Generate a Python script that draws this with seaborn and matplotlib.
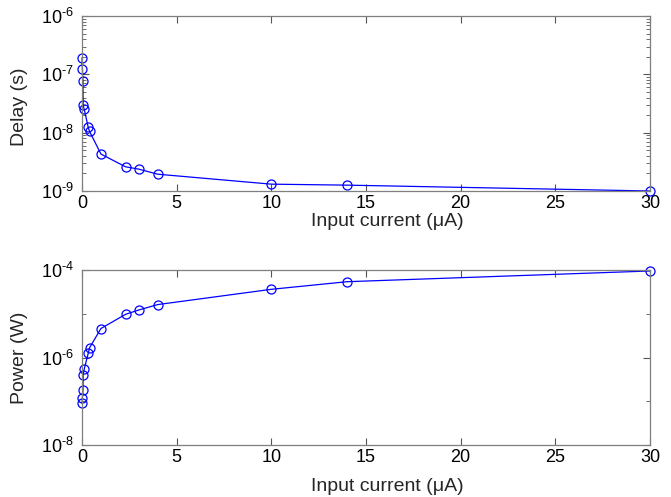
import numpy as np
import pandas as pd
import matplotlib
matplotlib.use("Agg")
import matplotlib.pyplot as plt
import matplotlib.ticker as mticker
import seaborn as sns

# Data
current_uA = [0.005, 0.02, 0.05, 0.06, 0.12, 0.33, 0.4, 1.0, 2.3, 3.0, 4.0, 10.0, 14.0, 30.0]
delay_s = [1.94e-7, 1.25e-7, 7.6e-8, 3.0e-8, 2.5e-8, 1.23e-8, 1.05e-8, 4.3e-9, 2.6e-9,
           2.37e-9, 1.94e-9, 1.31e-9, 1.26e-9, 1.0e-9]
power_W = [9.0e-8, 1.17e-7, 1.8e-7, 4.0e-7, 5.5e-7, 1.25e-6, 1.67e-6, 4.6e-6, 9.7e-6,
           1.22e-5, 1.62e-5, 3.62e-5, 5.4e-5, 9.5e-5]
x_ticks = [0, 5, 10, 15, 20, 25, 30]
xlabel = "Input current (\u03bcA)"

df = pd.DataFrame({"current": current_uA, "delay": delay_s, "power": power_W})

sns.set_style("ticks")
plt.rcParams["font.family"] = ["Liberation Sans", "DejaVu Sans"]
plt.rcParams["mathtext.fontset"] = "custom"
plt.rcParams["mathtext.rm"] = "Liberation Sans"
plt.rcParams["mathtext.it"] = "Liberation Sans"
plt.rcParams["mathtext.default"] = "regular"

fig = plt.figure(figsize=(6.71, 4.97), dpi=100)
W, H = 671, 497
ax1 = fig.add_axes([82 / W, 1 - 191 / H, (650 - 82) / W, (191 - 16) / H])
ax2 = fig.add_axes([82 / W, 1 - 445 / H, (650 - 82) / W, (445 - 270) / H])

line_kw = dict(color="#0000ff", marker="o", markersize=6.5, markerfacecolor="none",
               markeredgecolor="#0000ff", markeredgewidth=0.9, linewidth=0.9,
               clip_on=False)

sns.lineplot(data=df, x="current", y="delay", ax=ax1, **line_kw)
sns.lineplot(data=df, x="current", y="power", ax=ax2, **line_kw)


def sci_fmt(v, pos):
    e = int(round(np.log10(v)))
    return r"$10^{\text{-}%d}$" % (-e)


for ax in (ax1, ax2):
    ax.set_yscale("log")
    ax.set_xlim(0, 30)
    ax.set_xticks(x_ticks)
    ax.set_xlabel(xlabel, fontsize=14)
    for s in ax.spines.values():
        s.set_color("#7f7f7f")
        s.set_linewidth(0.9)
        s.set_visible(True)
    ax.tick_params(which="both", direction="in", top=True, right=True,
                   colors="#555555", labelcolor="black", labelsize=13)
    ax.tick_params(which="major", length=5, width=0.8)
    ax.tick_params(axis="x", which="major", pad=3)
    ax.tick_params(axis="y", which="major", pad=6)
    ax.tick_params(which="minor", length=3, width=0.6)
    ax.yaxis.set_major_formatter(mticker.FuncFormatter(sci_fmt))
    ax.yaxis.set_minor_formatter(mticker.NullFormatter())
    ax.set_facecolor("white")

ax1.set_ylim(1e-9, 1e-6)
ax1.yaxis.set_major_locator(mticker.FixedLocator([1e-9, 1e-8, 1e-7, 1e-6]))
ax1.yaxis.set_minor_locator(mticker.LogLocator(base=10, subs=np.arange(2, 10), numticks=20))
ax1.set_ylabel("Delay (s)", fontsize=14)
ax1.xaxis.set_label_coords(0.537, -0.125)
ax1.yaxis.set_label_coords(-0.095, 0.48)

ax2.set_ylim(1e-8, 1e-4)
ax2.yaxis.set_major_locator(mticker.FixedLocator([1e-8, 1e-6, 1e-4]))
ax2.yaxis.set_minor_locator(mticker.FixedLocator([1e-7, 1e-5]))
ax2.set_ylabel("Power (W)", fontsize=14)
ax2.xaxis.set_label_coords(0.537, -0.19)
ax2.yaxis.set_label_coords(-0.095, 0.5)

fig.savefig("out.png", dpi=100, facecolor="white")
